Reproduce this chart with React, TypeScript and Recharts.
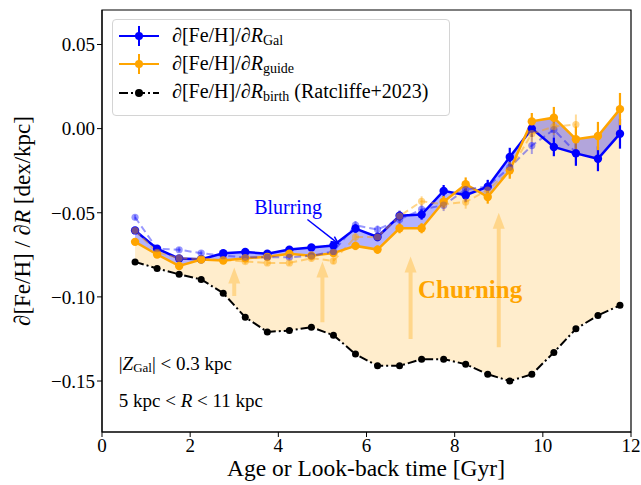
import React from "react";
import {
  ComposedChart,
  Line,
  Area,
  XAxis,
  YAxis,
  ErrorBar,
  ReferenceLine,
  ReferenceArea,
  ReferenceDot,
  Legend,
  Label,
} from "recharts";

// age bins (Gyr)
const ages = [0.75, 1.25, 1.75, 2.25, 2.75, 3.25, 3.75, 4.25, 4.75, 5.25, 5.75, 6.25, 6.75, 7.25, 7.75, 8.25, 8.75, 9.25, 9.75, 10.25, 10.75, 11.25, 11.75];

// d[Fe/H]/dR_Gal (solid blue)
const gradGal = [-0.0605, -0.0714, -0.0772, -0.0776, -0.0741, -0.0733, -0.0744, -0.0719, -0.0706, -0.0695, -0.0594, -0.0644, -0.0518, -0.0511, -0.037, -0.0396, -0.0345, -0.0169, 0.0, -0.0109, -0.0147, -0.0179, -0.003];
const gradGalErr = [0.0015, 0.0015, 0.0015, 0.0015, 0.0015, 0.0015, 0.0015, 0.0015, 0.002, 0.002, 0.0025, 0.0025, 0.003, 0.003, 0.0035, 0.004, 0.004, 0.0055, 0.005, 0.0055, 0.0074, 0.0074, 0.0089];

// d[Fe/H]/dR_guide (solid orange)
const gradGuide = [-0.0673, -0.0748, -0.0816, -0.0778, -0.0784, -0.077, -0.0762, -0.0744, -0.0755, -0.074, -0.0697, -0.0719, -0.0592, -0.0592, -0.0435, -0.033, -0.0406, -0.0248, 0.0043, 0.0065, -0.0063, -0.0044, 0.0116];
const gradGuideErr = [0.0015, 0.0015, 0.0015, 0.0015, 0.0015, 0.0015, 0.0015, 0.0015, 0.002, 0.002, 0.0025, 0.0025, 0.003, 0.003, 0.0035, 0.004, 0.004, 0.005, 0.005, 0.0064, 0.0076, 0.0084, 0.0096];

// faint dashed comparison curves
const gradGalAlt = [-0.0527, -0.0714, -0.072, -0.074, -0.0755, -0.0765, -0.0764, -0.0765, -0.0756, -0.073, -0.0574, -0.06, -0.054, -0.048, -0.0455, -0.0362, -0.0343, -0.023, -0.0101, -0.0006, -0.0142, null, null];
const gradGalAltErr = [0.0015, 0.0015, 0.0015, 0.0015, 0.0015, 0.0015, 0.0015, 0.0015, 0.002, 0.002, 0.0025, 0.0025, 0.003, 0.003, 0.0035, 0.004, 0.004, 0.004, 0.005, 0.005, 0.006, null, null];
const gradGuideAlt = [-0.0606, -0.0735, -0.077, -0.0775, -0.078, -0.079, -0.0798, -0.0798, -0.077, -0.0786, -0.0644, -0.0644, -0.052, -0.0432, -0.045, -0.0436, -0.0365, -0.025, -0.003, 0.0012, 0.0024, null, null];
const gradGuideAltErr = [0.0015, 0.0015, 0.0015, 0.0015, 0.0015, 0.0015, 0.0015, 0.0015, 0.002, 0.002, 0.0025, 0.0025, 0.003, 0.003, 0.0035, 0.004, 0.004, 0.004, 0.005, 0.005, 0.006, null, null];

// d[Fe/H]/dR_birth (Ratcliffe+2023)
const gradBirth = [-0.0792, -0.0831, -0.0866, -0.0896, -0.0978, -0.1121, -0.1208, -0.12, -0.118, -0.1228, -0.134, -0.141, -0.141, -0.137, -0.137, -0.14, -0.146, -0.15, -0.146, -0.133, -0.119, -0.111, -0.105];

const xTicks = [0, 2, 4, 6, 8, 10, 12];
const yTicks = [-0.15, -0.1, -0.05, 0, 0.05];

// churning arrows: [age, from, to]
const churnArrows = [
  [3.0, -0.0995, -0.0826],
  [5.0, -0.115, -0.079],
  [7.0, -0.125, -0.076],
  [9.0, -0.13, -0.05],
];

const serif = "'Liberation Serif', 'DejaVu Serif', serif";
const BLUE = "#0000ff";
const ORANGE = "#ffa500";

const rows = ages.map((age, i) => ({
  age,
  gal: gradGal[i],
  galErr: gradGalErr[i],
  guide: gradGuide[i],
  guideErr: gradGuideErr[i],
  galAlt: gradGalAlt[i],
  galAltErr: gradGalAltErr[i],
  guideAlt: gradGuideAlt[i],
  guideAltErr: gradGuideAltErr[i],
  birth: gradBirth[i],
  churn: [gradBirth[i], gradGuide[i]],
  blur: [gradGuide[i], gradGal[i]],
}));

const fmt = (v: number) => (Math.abs(v) < 1e-9 ? "0.00" : v.toFixed(2).replace("-", "\u2212"));

const FatArrow = (props: any) => {
  const { x1, y1, x2, y2 } = props;
  const cx = (x1 + x2) / 2;
  const top = Math.min(y1, y2);
  const bot = Math.max(y1, y2);
  const hl = 16;
  const hw = 6;
  const sw = 2;
  const d = `M${cx - sw},${bot} L${cx - sw},${top + hl} L${cx - hw},${top + hl} L${cx},${top} L${cx + hw},${top + hl} L${cx + sw},${top + hl} L${cx + sw},${bot} Z`;
  return <path d={d} fill={ORANGE} fillOpacity={0.32} stroke="none" />;
};

const ThinArrow = (props: any) => {
  const { x1, y1, x2, y2 } = props;
  const ang = Math.atan2(y2 - y1, x2 - x1);
  const L = 8;
  const a1 = ang + Math.PI - 0.4;
  const a2 = ang + Math.PI + 0.4;
  return (
    <g stroke={BLUE} strokeWidth={1.5} fill="none">
      <line x1={x1} y1={y1} x2={x2} y2={y2} />
      <path d={`M${x2 + L * Math.cos(a1)},${y2 + L * Math.sin(a1)} L${x2},${y2} L${x2 + L * Math.cos(a2)},${y2 + L * Math.sin(a2)}`} />
    </g>
  );
};

const textAt = (content: React.ReactNode, style: any) => (p: any) => (
  <text x={p.cx} y={p.cy} dominantBaseline="central" fontFamily={serif} stroke="none" {...style}>
    {content}
  </text>
);

const legendItems = [
  { color: BLUE, err: true, sub: "Gal", extra: "" },
  { color: ORANGE, err: true, sub: "guide", extra: "" },
  { color: "#000000", err: false, sub: "birth", extra: " (Ratcliffe+2023)" },
];

const LegendBox = () => (
  <div
    style={{
      border: "1px solid #d4d4d4",
      borderRadius: 4,
      background: "rgba(255,255,255,0.85)",
      padding: "2px 0 8px 5px",
      width: 331,
      fontFamily: serif,
      fontSize: 20,
      color: "#000",
    }}
  >
    {legendItems.map((it) => (
      <div key={it.sub} style={{ display: "flex", alignItems: "center", height: 28.3 }}>
        <svg width={42} height={24} style={{ flex: "none" }}>
          {it.err ? (
            <line x1={21} y1={2} x2={21} y2={22} stroke={it.color} strokeWidth={2} />
          ) : null}
          <line
            x1={1}
            y1={12}
            x2={41}
            y2={12}
            stroke={it.color}
            strokeWidth={2.2}
            strokeDasharray={it.err ? undefined : "9 3 2 3"}
          />
          <circle cx={21} cy={12} r={4} fill={it.color} />
        </svg>
        <span style={{ marginLeft: 12, whiteSpace: "nowrap" }}>
          ∂[Fe/H]/∂<i>R</i>
          <sub style={{ fontSize: 14, verticalAlign: "-3px" }}>{it.sub}</sub>
          {it.extra}
        </span>
      </div>
    ))}
  </div>
);

const YLabel = () => (
  <text
    x={22}
    y={221}
    transform="rotate(-90 22 221)"
    textAnchor="middle"
    dominantBaseline="central"
    fontFamily={serif}
    fontSize={23}
    fill="#000"
  >
    ∂[Fe/H] / ∂<tspan fontStyle="italic">R</tspan> [dex/kpc]
  </text>
);

const XLabel = () => (
  <text x={366} y={468} textAnchor="middle" dominantBaseline="central" fontFamily={serif} fontSize={23.5} fill="#000">
    Age or Look-back time [Gyr]
  </text>
);

export default function App() {
  return (
    <div style={{ position: "absolute", left: 0, top: 0, width: 641, height: 485, background: "#fff" }}>
      <ComposedChart width={641} height={485} data={rows} margin={{ top: 10, right: 10, left: 0, bottom: 0 }}>
        <XAxis
          type="number"
          dataKey="age"
          domain={[0, 12]}
          ticks={xTicks}
          allowDataOverflow
          height={53}
          tickSize={5}
          stroke="#000"
          tick={{ fill: "#000", fontFamily: serif, fontSize: 19 }}
        >
          <Label content={<XLabel />} />
        </XAxis>
        <YAxis
          type="number"
          domain={[-0.1803, 0.0705]}
          ticks={yTicks}
          allowDataOverflow
          width={102}
          tickSize={5}
          stroke="#000"
          tickFormatter={fmt}
          tick={{ fill: "#000", fontFamily: serif, fontSize: 19 }}
        >
          <Label content={<YLabel />} />
        </YAxis>

        <Area
          dataKey="churn"
          stroke="none"
          fill={ORANGE}
          fillOpacity={0.2}
          isAnimationActive={false}
          activeDot={false}
        />
        <Area
          dataKey="blur"
          stroke="none"
          fill={BLUE}
          fillOpacity={0.3}
          isAnimationActive={false}
          activeDot={false}
        />

        {churnArrows.map(([a, y0, y1]) => (
          <ReferenceLine
            key={a}
            segment={[
              { x: a, y: y0 },
              { x: a, y: y1 },
            ]}
            shape={FatArrow}
          />
        ))}

        <Line
          dataKey="birth"
          stroke="#000"
          strokeWidth={2}
          strokeDasharray="9 3 2 3"
          dot={{ r: 3.5, fill: "#000", stroke: "none" }}
          activeDot={false}
          isAnimationActive={false}
        />
        <Line
          dataKey="gal"
          stroke={BLUE}
          strokeWidth={2.5}
          dot={{ r: 4.2, fill: BLUE, stroke: "none" }}
          activeDot={false}
          isAnimationActive={false}
        >
          <ErrorBar dataKey="galErr" direction="y" width={0} stroke={BLUE} strokeWidth={2.2} />
        </Line>
        <Line
          dataKey="guide"
          stroke={ORANGE}
          strokeWidth={2.5}
          dot={{ r: 4.2, fill: ORANGE, stroke: "none" }}
          activeDot={false}
          isAnimationActive={false}
        >
          <ErrorBar dataKey="guideErr" direction="y" width={0} stroke={ORANGE} strokeWidth={2.2} />
        </Line>
        <Line
          dataKey="galAlt"
          stroke={BLUE}
          strokeOpacity={0.4}
          strokeWidth={2}
          strokeDasharray="7 4"
          dot={{ r: 3.6, fill: BLUE, fillOpacity: 0.4, stroke: "none" }}
          activeDot={false}
          isAnimationActive={false}
        >
          <ErrorBar dataKey="galAltErr" direction="y" width={0} stroke="rgba(0,0,255,0.35)" strokeWidth={2} />
        </Line>
        <Line
          dataKey="guideAlt"
          stroke={ORANGE}
          strokeOpacity={0.45}
          strokeWidth={2}
          strokeDasharray="7 4"
          dot={{ r: 3.6, fill: ORANGE, fillOpacity: 0.45, stroke: "none" }}
          activeDot={false}
          isAnimationActive={false}
        >
          <ErrorBar dataKey="guideAltErr" direction="y" width={0} stroke="rgba(255,165,0,0.4)" strokeWidth={2} />
        </Line>

        <ReferenceLine
          segment={[
            { x: 4.66, y: -0.054 },
            { x: 5.36, y: -0.0683 },
          ]}
          shape={ThinArrow}
        />
        <ReferenceDot x={4.22} y={-0.0465} r={0} shape={textAt("Blurring", { fontSize: 20, fill: BLUE, textAnchor: "middle" })} />
        <ReferenceDot x={8.35} y={-0.0955} r={0} shape={textAt("Churning", { fontSize: 25, fontWeight: "bold", fill: ORANGE, textAnchor: "middle" })} />
        <ReferenceDot
          x={0.38}
          y={-0.139}
          r={0}
          shape={textAt(
            <>
              <tspan fill="#000">|</tspan>
              <tspan fill="#000" fontStyle="italic">Z</tspan>
              <tspan fill="#000" fontSize={13} dy={4}>Gal</tspan>
              <tspan fill="#000" dy={-4}>| &lt; 0.3 kpc</tspan>
            </>,
            { fontSize: 19, fill: "#000" }
          )}
        />
        <ReferenceDot
          x={0.38}
          y={-0.1615}
          r={0}
          shape={textAt(
            <>
              5 kpc &lt; <tspan fontStyle="italic">R</tspan> &lt; 11 kpc
            </>,
            { fontSize: 19, fill: "#000" }
          )}
        />

        <ReferenceArea x1={0} x2={12} y1={-0.1803} y2={0.0705} fill="none" stroke="#000" strokeWidth={1.2} ifOverflow="extendDomain" />

        <Legend
          layout="vertical"
          align="center"
          verticalAlign="middle"
          wrapperStyle={{ left: 112, top: 19, width: 337 }}
          content={<LegendBox />}
        />
      </ComposedChart>
    </div>
  );
}
